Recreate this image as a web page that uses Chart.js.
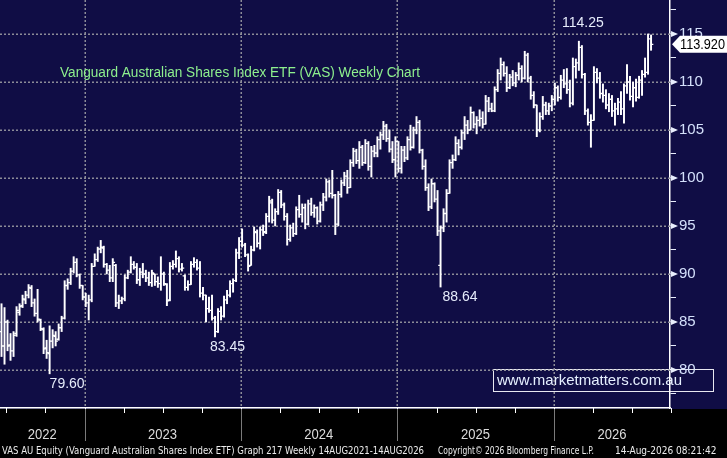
<!DOCTYPE html>
<html>
<head>
<meta charset="utf-8">
<script src="https://cdn.jsdelivr.net/npm/chart.js@4.4.1/dist/chart.umd.min.js"></script>
<style>
  html, body { margin: 0; padding: 0; background: #000; }
  #wrap { width: 727px; height: 458px; }
</style>
</head>
<body>
<div id="wrap"><canvas id="vasChart" width="727" height="458"></canvas></div>
<script>
// VAS weekly OHLC (217 weeks)
var opens = [
  84.0,82.5,85.0,82.6,82.0,83.8,86.0,86.7,87.3,87.8,88.5,87.0,85.9,85.2,84.2,82.3,81.7,83.0,83.5,83.2,
  84.4,85.4,88.8,89.1,90.3,91.2,89.9,88.8,87.6,87.0,87.3,90.8,91.5,92.6,92.7,91.0,90.4,89.6,90.9,87.0,
  87.2,87.4,89.6,90.2,91.0,90.7,89.4,90.2,90.0,89.6,89.1,90.0,89.2,89.0,90.0,88.9,87.3,90.8,91.0,91.6,
  90.5,89.8,88.6,88.9,91.0,91.2,90.6,88.0,87.8,86.4,86.2,85.4,84.0,86.1,85.6,87.3,87.8,89.0,89.3,92.2,
  93.4,93.0,92.0,90.9,92.5,94.3,93.2,94.6,94.4,96.0,97.4,95.6,96.5,98.5,97.2,96.0,93.6,94.8,94.2,96.7,
  96.2,96.9,95.2,97.3,96.4,96.9,95.5,97.2,98.0,99.6,98.4,98.2,95.2,98.3,99.5,100.2,99.0,101.6,102.8,101.8,
  103.2,101.6,103.6,101.2,102.8,102.6,104.0,104.5,105.4,104.1,103.0,101.9,103.8,101.0,102.9,102.1,104.0,103.2,105.0,105.8,
  102.9,101.2,99.0,97.0,99.4,97.8,90.9,94.8,96.3,98.4,101.6,101.9,103.6,103.2,104.7,105.5,105.0,106.8,105.6,106.0,
  106.2,105.6,108.0,107.2,107.0,109.2,110.9,111.8,110.9,109.4,110.5,109.9,110.7,111.4,110.4,112.8,110.4,108.6,107.6,105.0,
  106.4,107.6,107.0,107.5,108.2,109.4,108.4,110.2,109.8,109.2,107.8,111.6,112.0,113.6,110.8,107.0,105.8,106.0,111.0,110.4,
  108.8,108.6,107.6,108.2,107.0,107.2,107.9,107.2,109.6,110.0,108.5,109.4,108.4,110.2,110.8,111.0,114.5
];
var highs = [
  86.9,86.5,85.2,83.8,84.0,86.6,86.9,87.8,88.2,88.9,88.8,87.4,88.4,85.3,84.4,83.1,84.6,84.2,84.0,84.8,
  85.6,89.3,89.5,90.6,91.8,91.6,90.0,88.8,88.0,87.8,91.1,92.1,92.8,93.5,92.9,91.1,90.9,91.6,91.0,87.8,
  87.6,89.9,90.4,91.8,91.3,91.1,90.6,91.1,90.4,90.2,90.4,90.0,89.7,91.8,90.2,89.0,91.2,91.4,92.4,91.8,
  91.1,89.9,89.3,91.3,91.7,91.5,91.3,88.6,87.8,87.6,87.8,85.6,86.4,86.6,87.7,88.3,89.3,89.5,92.6,93.8,
  94.7,93.2,92.1,92.9,94.9,94.6,94.9,95.1,96.3,98.1,97.8,96.8,98.8,98.7,97.4,96.3,95.1,95.3,97.0,98.2,
  97.3,97.3,97.7,97.9,97.2,97.0,97.5,98.4,99.9,99.8,100.8,98.3,98.6,99.8,100.6,100.8,101.9,103.1,103.0,103.8,
  103.4,104.0,103.8,103.3,103.4,104.3,104.8,105.9,105.6,105.0,103.8,104.3,103.8,103.3,103.3,104.3,105.5,105.3,106.4,106.0,
  103.0,101.9,99.4,99.9,99.5,98.7,95.0,96.8,98.8,101.9,102.4,104.3,104.0,105.0,106.4,106.0,107.4,106.9,106.4,107.1,
  106.9,108.6,108.4,107.8,109.5,111.3,112.5,112.1,111.6,110.8,111.2,111.0,112.0,111.7,113.2,113.0,110.6,109.0,107.6,106.8,
  108.5,107.9,107.8,108.6,109.9,109.6,110.7,111.3,111.4,110.2,112.5,112.4,114.25,113.8,110.9,107.2,106.6,111.6,111.4,111.0,
  109.8,109.2,108.8,108.6,107.8,108.3,109.0,109.8,111.8,110.6,110.0,110.3,110.6,111.2,112.5,115.0,114.9
];
var lows = [
  81.4,80.6,82.0,81.0,81.4,83.5,85.7,86.5,86.9,87.5,86.6,85.6,85.0,84.1,81.7,81.2,79.6,82.3,82.5,83.1,
  84.0,85.3,88.4,88.9,90.1,89.7,88.5,87.3,86.6,85.2,87.1,90.8,91.3,92.2,90.7,90.0,89.2,89.2,86.6,86.4,
  86.9,87.2,89.5,90.1,90.5,89.0,88.8,89.6,89.2,88.8,88.7,88.8,88.6,88.3,88.8,86.7,87.2,90.5,90.7,90.2,
  90.3,88.3,88.3,88.9,90.7,90.4,87.6,87.3,85.0,86.0,85.2,83.45,83.9,85.2,85.5,86.9,87.6,88.1,89.2,91.6,
  92.8,91.8,90.3,90.9,92.4,92.8,92.6,94.0,94.2,95.4,95.3,95.0,96.2,96.9,95.6,93.0,93.4,93.9,94.1,95.9,
  95.4,94.7,95.1,96.1,95.9,95.2,95.4,96.6,97.6,98.0,97.9,94.1,95.0,98.0,99.2,98.4,99.0,101.2,101.5,101.0,
  101.3,101.5,100.8,100.1,102.2,102.2,103.0,104.0,103.8,102.7,101.6,100.1,100.6,100.5,101.7,101.9,102.9,103.1,104.6,102.6,
  100.9,98.7,96.6,96.8,97.5,94.0,88.64,94.4,95.4,98.4,101.0,101.8,102.4,103.0,104.0,104.6,105.0,105.2,104.6,105.4,
  105.2,105.6,106.9,106.9,106.9,109.0,110.2,110.6,109.0,109.3,109.6,109.5,110.2,110.0,110.3,110.0,108.2,107.3,104.3,104.8,
  106.1,106.6,106.6,107.0,107.6,108.0,108.2,109.4,108.8,107.4,107.6,110.4,111.2,110.4,106.6,105.5,103.2,106.0,109.9,108.3,
  107.9,107.2,106.9,106.4,105.5,106.6,106.6,105.7,108.8,108.1,107.4,108.0,108.3,108.6,110.5,110.8,113.3
];
var closes = [
  82.5,85.0,82.5,82.0,83.6,86.2,86.6,87.4,87.8,88.6,87.0,85.9,85.3,84.3,82.2,81.8,83.0,83.6,83.0,84.4,
  85.4,88.8,89.1,90.3,91.2,89.9,88.8,87.6,87.0,87.3,90.8,91.5,92.6,92.8,91.0,90.4,89.6,91.2,87.0,87.2,
  87.4,89.6,90.2,91.0,90.7,89.4,90.2,90.0,89.6,89.1,90.1,89.2,89.0,90.0,89.0,87.2,90.8,91.0,91.6,90.5,
  90.6,88.6,88.9,91.0,91.2,90.6,88.0,87.8,86.4,86.2,85.4,84.0,86.1,85.6,87.3,87.8,89.0,89.3,92.2,93.4,
  93.0,92.0,90.8,92.5,94.4,93.2,94.6,94.3,96.0,97.6,95.6,96.5,98.5,97.2,96.0,93.6,94.8,94.2,96.7,96.2,
  96.9,95.2,97.3,96.4,96.9,95.5,97.2,98.0,99.6,98.4,98.2,95.2,98.3,99.5,100.2,99.0,101.6,102.8,101.8,103.2,
  101.6,103.6,101.2,102.8,102.6,104.0,104.5,105.4,104.1,103.0,101.9,103.8,101.0,102.9,102.1,104.0,103.2,105.0,105.8,102.9,
  101.2,99.0,97.0,99.4,97.8,94.5,94.8,96.3,98.4,101.6,101.9,103.6,103.2,104.7,105.5,105.0,106.8,105.6,106.0,106.2,
  105.6,108.0,107.2,107.0,109.2,110.9,111.8,110.9,109.4,110.5,109.9,110.7,111.4,110.4,112.8,110.4,108.6,107.6,105.0,106.4,
  107.6,107.0,107.5,108.2,109.4,108.4,110.2,109.8,109.2,107.8,111.6,112.0,113.6,110.8,107.0,105.8,106.0,111.0,110.4,108.8,
  108.6,107.6,108.2,107.0,107.2,107.9,107.2,109.6,110.0,108.5,109.4,108.4,110.2,110.8,111.0,114.5,113.92
];

// x axis: bar index where each calendar year starts, and the year names
var yearStarts = [27.6, 79.5, 131.5, 183.7];
var yearLabels = ['2022', '2023', '2024', '2025', '2026'];
// y axis tick values (labels only on multiples of 5)
var priceTicks = [77.5, 80, 82.5, 85, 87.5, 90, 92.5, 95, 97.5, 100, 102.5, 105, 107.5, 110, 112.5, 115, 117.5];

// marked highs / lows
var notes = [
  { text: '114.25', bar: 192, price: 114.25, where: 'above' },
  { text: '88.64', bar: 146, price: 88.64, where: 'below', dx: 2 },
  { text: '83.45', bar: 71, price: 83.45, where: 'below', dx: -5 },
  { text: '79.60', bar: 16, price: 79.60, where: 'below', dx: 0 }
];

var NAVY = '#100d45';
var DOTS = '#8c8c98';
var FONT = '"Liberation Sans", Arial, sans-serif';

var bgPlugin = {
  id: 'bg',
  beforeDraw: function(chart) {
    var c = chart.ctx, a = chart.chartArea;
    c.save();
    c.fillStyle = NAVY;
    c.fillRect(0, 0, chart.width, a.bottom + 1);
    c.fillStyle = '#000';
    c.fillRect(0, a.bottom + 1, chart.width, chart.height - a.bottom);
    // web address box sits under the axis labels
    c.strokeStyle = '#e8e8f0';
    c.lineWidth = 1;
    c.strokeRect(493.5, 369.5, 220, 22);
    c.fillStyle = '#e6f0ff';
    c.font = '15px ' + FONT;
    c.textAlign = 'left';
    c.textBaseline = 'middle';
    c.fillText('www.marketmatters.com.au', 497, 381, 212);
    c.restore();
  }
};

// dotted grid: every 5 on price, year starts on time
var gridPlugin = {
  id: 'dotGrid',
  beforeDatasetsDraw: function(chart) {
    var c = chart.ctx, a = chart.chartArea;
    var x = chart.scales.x, y = chart.scales.y;
    c.save();
    c.strokeStyle = DOTS;
    c.lineWidth = 1.5;
    c.setLineDash([2, 2]);
    c.beginPath();
    priceTicks.forEach(function(v) {
      if (v % 5 !== 0) return;
      var py = Math.round(y.getPixelForValue(v)) + 0.25;
      c.moveTo(a.left, py); c.lineTo(a.right, py);
    });
    yearStarts.forEach(function(v) {
      var px = Math.round(x.getPixelForValue(v)) + 0.25;
      c.moveTo(px, a.top); c.lineTo(px, a.bottom);
    });
    c.stroke();
    c.restore();
  }
};

var ohlcPlugin = {
  id: 'ohlcTicks',
  afterDatasetsDraw: function(chart) {
    var c = chart.ctx, y = chart.scales.y;
    var meta = chart.getDatasetMeta(0);
    c.save();
    c.strokeStyle = '#ffffff';
    c.lineWidth = 1.3;
    c.beginPath();
    meta.data.forEach(function(bar, i) {
      var yo = y.getPixelForValue(opens[i]);
      var yc = y.getPixelForValue(closes[i]);
      c.moveTo(bar.x - 2.3, yo); c.lineTo(bar.x, yo);
      c.moveTo(bar.x, yc); c.lineTo(bar.x + 2.3, yc);
    });
    c.stroke();
    c.restore();
  }
};

var decorPlugin = {
  id: 'decor',
  afterDraw: function(chart) {
    var c = chart.ctx, a = chart.chartArea;
    var x = chart.scales.x, y = chart.scales.y;
    var meta = chart.getDatasetMeta(0);
    c.save();

    // title
    c.font = '14px ' + FONT;
    c.fillStyle = '#8ef08e';
    c.textBaseline = 'middle';
    c.textAlign = 'left';
    c.fillText('Vanguard Australian Shares Index ETF (VAS) Weekly Chart', 60, 73, 360);

    // high / low notes
    c.fillStyle = '#e6ecfb';
    c.font = '14px ' + FONT;
    notes.forEach(function(n) {
      var bx = meta.data[n.bar].x;
      var py = y.getPixelForValue(n.price);
      if (n.where === 'above') {
        c.textAlign = 'center';
        c.textBaseline = 'bottom';
        c.fillText(n.text, bx + 4, py - 11);
      } else {
        c.textAlign = 'left';
        c.textBaseline = 'top';
        c.fillText(n.text, bx + (n.dx || 0), py + 3);
      }
    });

    // arrows at the labelled price ticks
    c.fillStyle = '#e8eefc';
    priceTicks.forEach(function(v) {
      if (v % 5 !== 0) return;
      var py = y.getPixelForValue(v);
      c.beginPath();
      c.moveTo(a.right + 1, py - 3);
      c.lineTo(a.right + 8, py);
      c.lineTo(a.right + 1, py + 3);
      c.closePath();
      c.fill();
    });

    // last price tag
    var last = closes[closes.length - 1];
    var ly = y.getPixelForValue(last);
    c.fillStyle = '#ffffff';
    c.beginPath();
    c.moveTo(a.right + 2, ly);
    c.lineTo(a.right + 10, ly - 8.5);
    c.lineTo(chart.width, ly - 8.5);
    c.lineTo(chart.width, ly + 8.5);
    c.lineTo(a.right + 10, ly + 8.5);
    c.closePath();
    c.fill();
    c.fillStyle = '#000';
    c.font = '14px ' + FONT;
    c.textAlign = 'left';
    c.textBaseline = 'middle';
    c.fillText(last.toFixed(3), a.right + 10, ly + 1, chart.width - a.right - 12);

    // bottom band: quarter ticks, year separators, year names
    var yearLen = (yearStarts[yearStarts.length - 1] - yearStarts[0]) / (yearStarts.length - 1);
    c.strokeStyle = '#ffffff';
    c.lineWidth = 1;
    c.beginPath();
    for (var q = yearStarts[0] - yearLen / 2; q <= x.max + 0.5; q += yearLen / 4) {
      var qx = Math.round(x.getPixelForValue(q)) + 0.5;
      c.moveTo(qx, a.bottom); c.lineTo(qx, a.bottom + 5);
    }
    c.stroke();

    c.strokeStyle = '#7a7a7a';
    c.beginPath();
    yearStarts.forEach(function(v) {
      var sx = Math.round(x.getPixelForValue(v)) + 0.5;
      c.moveTo(sx, a.bottom + 1); c.lineTo(sx, a.bottom + 33);
    });
    c.stroke();

    var edges = [x.min].concat(yearStarts, [x.max]);
    c.fillStyle = '#dcdcdc';
    c.font = '15px ' + FONT;
    c.textAlign = 'center';
    c.textBaseline = 'middle';
    yearLabels.forEach(function(t, i) {
      var cx = (x.getPixelForValue(edges[i]) + x.getPixelForValue(edges[i + 1])) / 2;
      c.fillText(t, cx, a.bottom + 27, 29);
    });

    // footer line
    c.fillStyle = '#ececec';
    c.font = '10px "DejaVu Sans Condensed", "DejaVu Sans", sans-serif';
    c.textAlign = 'left';
    c.textBaseline = 'middle';
    c.fillText('VAS AU Equity (Vanguard Australian Shares Index ETF) Graph 217 Weekly 14AUG2021-14AUG2026', 2, 451, 422);
    c.fillText('Copyright\u00a9 2026 Bloomberg Finance L.P.', 438, 451, 156);
    c.fillText('14-Aug-2026 08:21:42', 615, 451, 110);

    c.restore();
  }
};

var barData = closes.map(function(cl, i) {
  return { x: i, y: [lows[i], highs[i]] };
});

var ctx = document.getElementById('vasChart').getContext('2d');
var vasChart = new Chart(ctx, {
  type: 'bar',
  data: {
    datasets: [{
      data: barData,
      backgroundColor: '#ffffff',
      borderWidth: 0,
      barThickness: 1.3,
      grouped: false
    }]
  },
  options: {
    responsive: false,
    animation: false,
    events: [],
    layout: { padding: 0 },
    plugins: {
      legend: { display: false },
      tooltip: { enabled: false }
    },
    scales: {
      x: {
        type: 'linear',
        min: -0.5,
        max: 222.3,
        offset: false,
        afterFit: function(s) {
          s.height = 50;
          s.paddingLeft = 0; s.paddingRight = 0;
        },
        ticks: { display: false },
        grid: { display: false },
        border: { display: true, color: '#ffffff', width: 1.5 }
      },
      y: {
        position: 'right',
        min: 76.04,
        max: 118.54,
        afterBuildTicks: function(s) {
          s.ticks = priceTicks.map(function(v) { return { value: v }; });
        },
        afterFit: function(s) {
          s.width = 57;
          s.paddingTop = 0; s.paddingBottom = 0;
        },
        ticks: {
          color: '#d4e0fb',
          font: { family: FONT, size: 15 },
          padding: 3,
          callback: function(v) { return v % 5 === 0 ? String(v) : ''; }
        },
        grid: {
          drawOnChartArea: false,
          tickLength: 6,
          tickColor: '#e8eefc',
          tickWidth: 1
        },
        border: { color: '#ffffff', width: 1.5 }
      }
    }
  },
  plugins: [bgPlugin, gridPlugin, ohlcPlugin, decorPlugin]
});
</script>
</body>
</html>
